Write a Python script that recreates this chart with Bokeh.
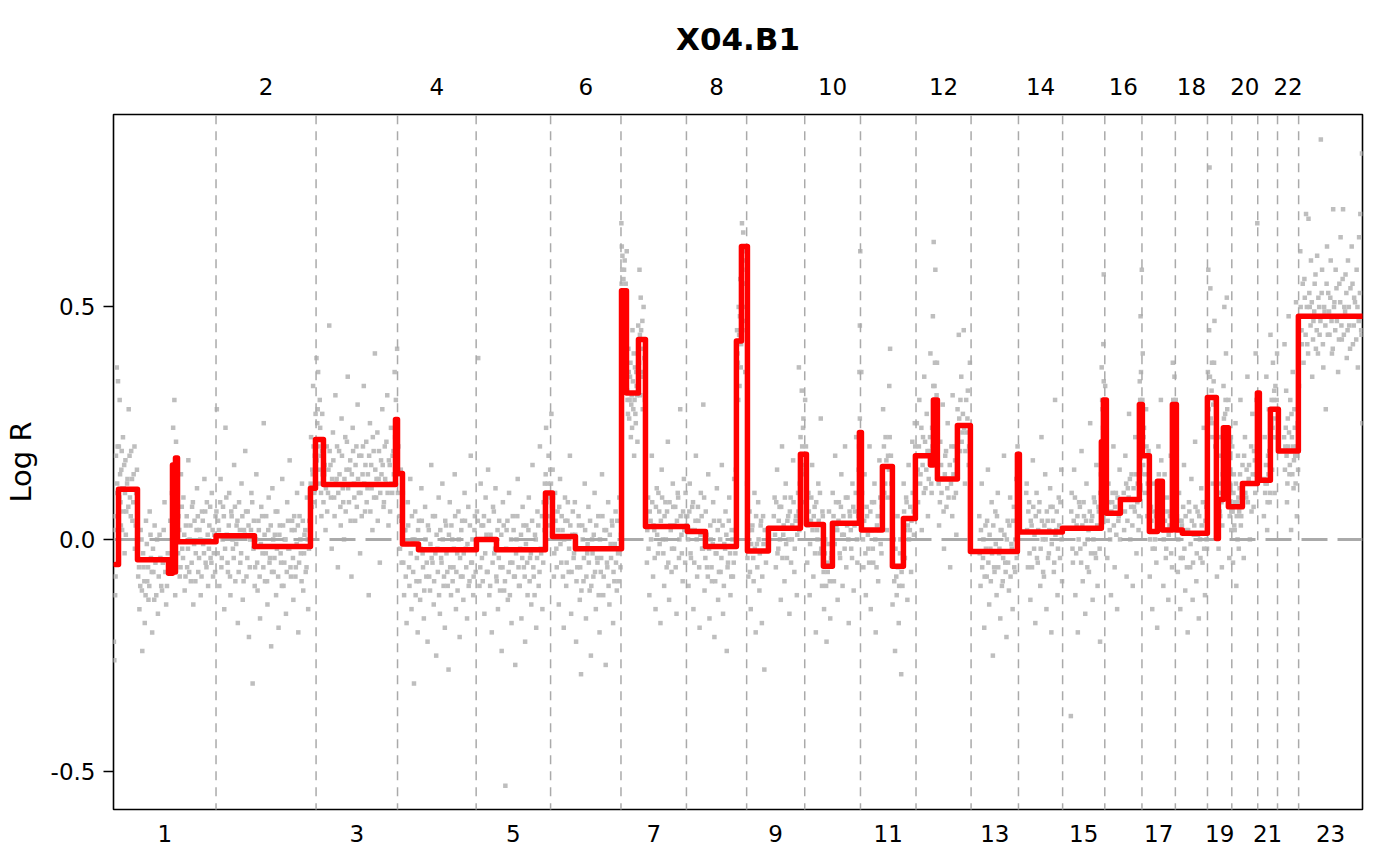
from bokeh.plotting import figure
from bokeh.models import Range1d, LinearAxis, FixedTicker, PrintfTickFormatter
from bokeh.embed import file_html
from bokeh.resources import INLINE

TITLE = "X04.B1"
Y_LABEL = "Log R"
Y_TICKS = [-0.5, 0.0, 0.5]

CHROM_LABELS = ["1", "2", "3", "4", "5", "6", "7", "8", "9", "10", "11", "12",
                "13", "14", "15", "16", "17", "18", "19", "20", "21", "22", "23"]
CHROM_LEN = [249.25, 243.20, 198.02, 191.15, 180.92, 171.12, 159.14, 146.36,
             141.21, 135.53, 135.01, 133.85, 115.17, 107.35, 102.53, 90.35,
             81.20, 78.08, 59.13, 63.03, 48.13, 51.30, 155.27]

# segmentation (genome-wide Mb)
SEG_START = [4.9, 12.2, 58.3, 133.7, 143.4, 147.1, 150.7, 155.6, 249.3, 342.7,
             478.8, 491.0, 510.4, 685.5, 690.4, 702.5, 741.4, 882.3, 931.0, 1050.1,
             1067.1, 1123.0, 1235.0, 1247.0, 1276.2, 1293.2, 1395.2, 1439.0, 1514.3, 1526.5,
             1541.1, 1592.1, 1669.9, 1684.5, 1725.8, 1747.7, 1813.3, 1818.2, 1869.2, 1893.5,
             1920.3, 1949.4, 1985.9, 1993.2, 2002.9, 2051.5, 2083.1, 2197.4, 2202.2, 2306.7,
             2401.5, 2406.4, 2413.7, 2447.7, 2493.9, 2501.2, 2518.2, 2537.7, 2549.8, 2574.1,
             2583.9, 2598.4, 2659.2, 2681.1, 2686.0, 2698.1, 2710.3, 2744.4, 2780.8, 2785.6,
             2812.4, 2831.8, 2880.4]
SEG_END = SEG_START[1:] + [3036.0]
SEG_MEAN = [-0.054, 0.108, -0.044, -0.073, 0.16, -0.07, 0.175, -0.005, 0.008, -0.015,
            0.11, 0.215, 0.118, 0.258, 0.142, -0.01, -0.022, 0.0, -0.022, 0.10,
            0.006, -0.02, 0.535, 0.315, 0.43, 0.028, 0.017, -0.015, 0.427, 0.63,
            -0.025, 0.024, 0.183, 0.032, -0.058, 0.035, 0.23, 0.02, 0.157, -0.058,
            0.045, 0.18, 0.16, 0.30, 0.13, 0.245, -0.026, 0.183, 0.016, 0.024,
            0.21, 0.30, 0.056, 0.086, 0.29, 0.18, 0.017, 0.125, 0.02, 0.29,
            0.02, 0.013, 0.305, 0.002, 0.086, 0.24, 0.07, 0.12, 0.315, 0.127,
            0.28, 0.19, 0.48]

# probe log R values: (position within chromosome in Mb, value)
c1 = [(1,-0.22),(2,-0.26),(3,0.05),(4,-0.12),(6,0.18),(8,0.37),(9,0.12),(11,0.34),(13,0.20),(15,0.30),
      (17,0.08),(19,0.15),(21,0.02),(23,0.22),(25,0.11),(27,-0.03),(29,0.17),(31,0.06),(34,0.13),(37,0.28),
      (40,0.09),(43,0.19),(46,0.04),(49,0.14),(52,-0.02),(55,0.10),(60,-0.08),(63,-0.15),(66,0.02),(69,-0.11),
      (70,-0.24),(73,-0.06),(76,-0.18),(79,0.04),(82,-0.09),(85,-0.13),(88,0.06),(91,-0.04),(94,-0.2),(97,-0.07),
      (100,0.03),(104,-0.12),(108,-0.16),(112,0.01),(116,-0.1),(120,-0.05),(124,0.08),(128,-0.14),(132,-0.03),(145,0.24),
      (148,0.3),(150,-0.12),(152,0.21),(155,0.12),(158,0.05),(161,-0.08),(164,0.14),(167,-0.02),(170,0.09),(173,-0.11),
      (176,0.03),(179,-0.06),(182,0.17),(185,0.0),(188,-0.09),(191,0.07),(194,-0.14),(197,0.04),(200,-0.03),(203,0.11),
      (206,-0.07),(209,0.02),(212,-0.12),(215,0.06),(218,-0.01),(221,0.13),(224,-0.05),(227,0.08),(230,-0.1),(233,0.03),
      (236,-0.04),(239,0.1),(242,-0.08),(245,0.01),(248,0.05)]
c2 = [(2,0.28),(5,0.04),(8,-0.1),(11,0.13),(14,-0.04),(17,0.07),(20,-0.15),(23,0.24),(26,0.01),(29,-0.07),
      (32,0.1),(35,-0.12),(38,0.05),(41,-0.02),(44,0.16),(47,-0.09),(50,0.03),(53,-0.18),(56,0.08),(59,-0.05),
      (62,0.12),(65,-0.13),(68,0.02),(71,0.19),(74,-0.08),(77,0.06),(80,-0.21),(83,0.0),(86,0.1),(89,-0.31),
      (92,0.04),(95,-0.06),(98,0.14),(101,-0.11),(104,0.02),(107,-0.17),(110,0.07),(113,-0.03),(116,0.25),(119,-0.09),
      (122,0.05),(125,-0.14),(128,0.09),(131,-0.04),(134,-0.23),(137,0.11),(140,-0.07),(143,0.01),(146,-0.12),(149,0.06),
      (152,-0.19),(155,0.03),(158,-0.05),(161,0.13),(164,-0.1),(167,0.0),(170,-0.16),(173,0.08),(176,-0.02),(179,0.17),
      (182,-0.08),(185,0.04),(188,-0.13),(191,0.02),(194,-0.06),(197,0.1),(200,-0.2),(203,0.05),(206,-0.03),(209,0.12),
      (212,-0.11),(215,0.01),(218,-0.07),(221,0.09),(224,-0.15),(227,0.04),(231,0.22),(234,0.15),(236,0.33),(238,0.08),
      (240,0.18),(242,0.27)]
c3 = [(1,0.39),(3,0.25),(5,0.36),(7,0.12),(9,0.3),(11,0.18),(13,0.05),(15,0.27),(17,0.21),(20,0.14),
      (23,0.02),(26,0.2),(29,0.1),(32,0.46),(35,0.16),(38,-0.02),(41,0.23),(44,0.09),(47,0.31),(50,0.13),
      (53,-0.06),(56,0.19),(59,0.07),(62,0.26),(65,0.11),(68,0.0),(71,0.22),(74,0.15),(77,0.35),(80,0.08),
      (83,0.17),(86,-0.08),(89,0.24),(92,0.12),(95,0.04),(98,0.2),(101,0.29),(104,0.1),(107,-0.03),(110,0.18),
      (113,0.14),(116,0.33),(119,0.06),(122,0.21),(125,0.11),(128,-0.12),(131,0.25),(134,0.16),(137,0.02),(140,0.19),
      (143,0.4),(146,0.09),(149,0.23),(152,0.13),(155,-0.05),(158,0.17),(161,0.28),(164,0.07),(167,0.2),(170,0.12),
      (173,0.31),(176,0.03),(179,0.16),(182,0.24),(185,0.1),(188,0.19),(191,0.36),(194,0.3),(196,0.21),(197,0.41)]
c4 = [(2,0.2),(5,0.05),(8,0.15),(10,-0.05),(13,0.1),(16,-0.12),(19,0.02),(22,-0.18),(25,0.08),(28,-0.06),
      (31,0.13),(34,-0.15),(37,0.0),(40,-0.31),(43,0.06),(46,-0.09),(49,-0.2),(52,0.04),(55,-0.13),(58,0.11),
      (61,-0.03),(64,-0.17),(67,0.07),(70,-0.08),(73,-0.22),(76,0.02),(79,-0.11),(82,0.16),(85,-0.05),(88,-0.14),
      (91,0.05),(94,-0.25),(97,-0.02),(100,0.09),(103,-0.16),(106,-0.04),(109,0.12),(112,-0.1),(115,-0.19),(118,0.03),
      (121,-0.07),(124,-0.28),(127,0.08),(130,-0.12),(133,0.0),(136,-0.06),(139,0.14),(142,-0.15),(145,-0.03),(148,0.06),
      (151,-0.21),(154,-0.08),(157,0.04),(160,-0.13),(163,0.1),(166,-0.02),(169,-0.17),(172,0.07),(175,-0.09),(178,0.18),
      (181,-0.05),(184,-0.12),(187,0.02),(190,-0.07)]
c5 = [(2,0.06),(5,0.39),(8,-0.1),(11,0.12),(14,-0.04),(17,0.03),(20,-0.16),(23,0.09),(26,-0.07),(29,0.15),
      (32,-0.12),(35,0.01),(38,-0.2),(41,0.07),(44,-0.03),(47,0.11),(50,-0.09),(53,-0.15),(56,0.04),(59,-0.06),
      (62,-0.24),(65,0.08),(68,-0.11),(71,-0.53),(74,0.02),(77,-0.13),(80,0.1),(83,-0.05),(86,-0.18),(89,0.05),
      (92,-0.08),(95,-0.27),(98,0.0),(101,0.13),(104,-0.1),(107,-0.02),(110,-0.17),(113,0.07),(116,-0.06),(119,-0.22),
      (122,0.03),(125,-0.12),(128,0.09),(131,-0.04),(134,-0.14),(137,0.16),(140,-0.08),(143,0.01),(146,-0.19),(149,0.06),
      (152,-0.1),(155,0.2),(158,-0.03),(161,-0.15),(164,0.08),(167,0.12),(170,0.24),(173,0.05),(176,0.18),(179,0.09)]
c6 = [(2,0.27),(5,0.15),(8,-0.08),(11,0.1),(14,-0.02),(17,0.06),(20,-0.14),(23,0.13),(26,-0.05),(29,0.02),
      (32,-0.19),(35,0.09),(38,-0.1),(41,0.04),(44,-0.07),(47,0.18),(50,-0.16),(53,0.01),(56,-0.04),(59,0.08),
      (62,-0.22),(65,-0.06),(68,0.05),(71,-0.13),(74,-0.29),(77,0.03),(80,-0.09),(83,0.12),(86,-0.17),(89,-0.03),
      (92,0.07),(95,-0.11),(98,-0.25),(101,0.0),(104,-0.08),(107,0.1),(110,-0.15),(113,-0.04),(116,0.05),(119,-0.2),
      (122,-0.07),(125,0.14),(128,-0.12),(131,0.02),(134,-0.27),(137,-0.05),(140,0.08),(143,-0.14),(146,-0.01),(149,0.04),
      (152,-0.18),(155,-0.09),(158,0.06),(161,-0.11),(164,-0.03),(167,0.09),(170,-0.06)]
c7 = [(1,0.68),(2,0.63),(3,0.58),(4,0.5),(5,0.44),(6,0.56),(7,0.38),(8,0.47),(9,0.6),(10,0.52),
      (11,0.34),(12,0.45),(14,0.62),(16,0.3),(18,0.41),(20,0.26),(22,0.35),(24,0.22),(26,0.31),(28,0.45),
      (30,0.28),(32,0.18),(34,0.37),(36,0.25),(38,0.33),(40,0.21),(43,0.4),(45,0.58),(47,0.31),(49,0.45),
      (51,0.36),(53,0.28),(55,0.5),(57,0.39),(60,0.12),(63,-0.05),(66,0.09),(69,-0.12),(72,0.04),(75,0.18),
      (78,-0.08),(81,0.02),(84,-0.15),(87,0.11),(90,-0.03),(93,0.06),(96,-0.18),(99,0.15),(102,0.0),(105,-0.1),
      (108,0.08),(111,-0.06),(114,0.21),(117,-0.13),(120,0.03),(123,-0.07),(126,0.12),(129,-0.02),(132,0.07),(135,-0.16),
      (138,0.1),(141,-0.04),(144,0.28),(147,0.01),(150,-0.09),(153,0.13),(156,-0.05),(158,0.05)]
c8 = [(2,0.05),(5,-0.1),(8,0.12),(11,-0.04),(14,0.07),(17,-0.15),(20,0.02),(23,0.18),(26,-0.08),(29,0.04),
      (32,-0.19),(35,0.1),(38,-0.02),(41,0.29),(44,-0.11),(47,0.06),(50,-0.06),(53,0.14),(56,-0.17),(59,0.0),
      (62,-0.09),(65,0.08),(68,-0.21),(71,-0.03),(74,0.11),(77,-0.13),(80,0.04),(83,-0.07),(86,0.16),(89,-0.16),
      (92,-0.01),(95,0.06),(98,-0.24),(101,-0.05),(104,0.09),(107,-0.12),(110,0.02),(113,-0.08),(116,0.13),(119,-0.03),
      (121,0.26),(123,0.45),(125,0.38),(127,0.5),(129,0.33),(131,0.56),(133,0.42),(135,0.68),(137,0.6),(139,0.47),
      (141,0.63),(143,0.36),(145,0.55)]
c9 = [(1,0.12),(4,-0.08),(7,0.06),(10,-0.15),(13,0.02),(16,-0.04),(19,0.1),(22,-0.2),(25,-0.01),(28,0.08),
      (31,-0.11),(34,0.03),(37,-0.18),(40,0.05),(43,-0.28),(68,0.09),(71,-0.06),(74,0.15),(77,-0.02),(80,0.07),
      (83,-0.13),(86,0.2),(89,0.01),(92,-0.09),(95,0.12),(98,-0.04),(101,0.05),(104,-0.16),(107,0.09),(110,0.0),
      (113,0.17),(116,-0.07),(119,0.04),(122,-0.12),(125,0.1),(127,0.37),(128,0.02),(131,0.22),(134,0.32),(136,0.14),
      (138,0.26),(140,0.08)]
c10 = [(1,0.3),(3,0.2),(6,-0.05),(9,0.1),(12,-0.12),(15,0.04),(18,0.16),(21,-0.08),(24,0.07),(27,-0.2),
       (30,0.02),(33,0.12),(36,-0.03),(39,0.26),(42,-0.1),(44,0.05),(47,-0.15),(50,0.0),(53,-0.22),(56,-0.07),
       (59,0.06),(62,-0.17),(65,-0.03),(68,0.1),(71,-0.09),(74,0.18),(77,0.03),(80,-0.13),(83,0.08),(86,-0.04),
       (89,0.14),(92,-0.1),(95,0.01),(98,0.2),(101,-0.06),(104,0.09),(107,-0.18),(110,0.05),(113,-0.02),(116,0.12),
       (119,-0.11),(122,0.06),(125,0.22),(128,-0.05),(131,0.15),(133,0.36),(134,0.46),(135,0.62)]
c11 = [(2,0.36),(4,0.1),(7,-0.06),(10,0.14),(13,-0.12),(16,0.05),(19,-0.02),(22,0.2),(25,-0.15),(28,0.08),
       (31,-0.05),(34,0.12),(37,-0.2),(40,0.03),(43,-0.09),(46,0.17),(49,-0.01),(52,0.07),(55,0.28),(58,0.1),
       (61,0.22),(64,0.02),(67,0.18),(70,0.33),(72,0.41),(75,0.12),(78,-0.14),(81,0.0),(84,-0.24),(87,-0.08),
       (90,0.05),(93,-0.18),(96,-0.03),(99,-0.29),(102,-0.1),(105,0.12),(108,-0.04),(111,0.09),(114,-0.13),(117,0.16),
       (120,0.02),(123,-0.07),(126,0.21),(129,0.06),(132,0.25),(134,0.14)]
c12 = [(2,0.25),(5,0.08),(8,0.3),(11,0.14),(14,0.02),(17,0.22),(20,0.35),(23,0.11),(26,0.27),(29,0.05),
       (32,0.19),(35,0.4),(37,0.12),(39,0.24),(41,0.48),(43,0.64),(45,0.33),(47,0.58),(49,0.2),(51,0.38),
       (53,0.16),(56,0.03),(59,0.21),(62,0.1),(65,0.29),(68,-0.02),(71,0.18),(74,0.07),(77,0.25),(80,0.13),
       (83,-0.06),(86,0.2),(89,0.31),(92,0.09),(95,0.17),(98,0.01),(101,0.28),(104,0.44),(107,0.19),(110,0.35),
       (113,0.23),(116,0.45),(119,0.12),(122,0.3),(125,0.26),(128,0.16),(131,0.38),(133,0.05)]
c13 = [(20,0.05),(23,-0.1),(26,0.12),(29,-0.04),(32,-0.19),(35,0.03),(38,-0.08),(41,0.15),(44,-0.14),(47,-0.02),
       (50,0.08),(53,-0.25),(56,-0.06),(59,0.06),(62,-0.12),(65,0.1),(68,-0.03),(71,-0.17),(74,0.02),(77,-0.09),
       (80,0.18),(83,-0.05),(86,-0.21),(89,0.04),(92,-0.11),(95,0.09),(98,-0.01),(101,-0.15),(104,0.07),(107,-0.07),
       (110,0.13),(113,0.2),(114,0.1)]
c14 = [(20,0.12),(23,-0.06),(26,0.08),(29,-0.13),(32,0.03),(35,0.17),(38,-0.02),(41,-0.18),(44,0.1),(47,-0.05),
       (50,0.06),(53,-0.1),(56,0.22),(59,0.0),(62,-0.08),(65,0.14),(68,-0.15),(71,0.04),(74,-0.03),(77,0.11),
       (80,-0.2),(83,0.07),(86,-0.07),(89,0.3),(92,0.02),(95,-0.12),(98,0.09),(101,-0.04),(104,0.15),(106,-0.09)]
c15 = [(20,-0.38),(22,0.1),(25,-0.05),(28,0.15),(31,-0.12),(34,0.03),(37,-0.2),(40,0.08),(43,-0.02),(46,0.19),
       (49,-0.09),(52,0.05),(55,-0.16),(58,0.12),(61,0.0),(64,-0.07),(67,0.25),(70,0.04),(73,-0.13),(76,0.09),
       (79,-0.03),(82,0.16),(85,-0.1),(88,0.06),(91,-0.22),(93,0.14),(95,0.37),(97,0.28),(99,0.42),(100,0.57),(101,0.2)]
c16 = [(1,0.33),(3,0.18),(6,-0.04),(9,0.12),(12,0.02),(15,-0.12),(18,0.08),(21,0.2),(24,-0.06),(27,0.1),
       (30,-0.15),(33,0.04),(36,0.15),(47,0.02),(50,0.18),(53,-0.08),(56,0.11),(59,0.27),(62,0.0),(65,0.14),
       (68,-0.1),(71,0.07),(74,0.22),(77,-0.03),(80,0.12),(83,0.05),(85,0.34),(87,0.48),(89,0.25),(90,0.58)]
c17 = [(2,0.4),(4,0.22),(7,0.1),(10,0.28),(13,0.05),(16,0.19),(19,-0.08),(22,0.07),(25,-0.15),(28,0.12),
       (31,-0.02),(34,0.05),(37,-0.19),(40,0.2),(43,0.08),(46,0.3),(49,0.02),(52,-0.1),(55,0.14),(58,-0.04),
       (61,0.09),(64,-0.13),(67,0.03),(70,0.18),(73,-0.06),(75,0.38),(77,0.25),(79,0.35),(80,0.16)]
c18 = [(1,0.3),(3,0.12),(6,-0.07),(9,0.1),(12,-0.15),(15,0.04),(18,-0.04),(21,0.16),(24,-0.11),(27,0.02),
       (30,-0.2),(33,0.08),(36,-0.06),(39,0.13),(42,-0.13),(45,0.01),(48,0.21),(51,-0.09),(54,0.06),(57,-0.17),
       (60,0.0),(63,0.11),(66,-0.05),(69,0.24),(72,-0.12),(75,0.07),(77,-0.02)]
c19 = [(1,0.36),(2,0.58),(4,0.45),(5,0.8),(7,0.54),(9,0.25),(11,0.38),(13,0.12),(15,0.34),(17,0.47),
       (19,0.2),(21,0.3),(23,-0.08),(25,0.1),(27,-0.02),(29,0.18),(31,0.05),(33,0.22),(35,-0.06),(37,0.14),
       (39,0.33),(41,0.5),(43,0.27),(45,0.4),(47,0.52),(49,0.16),(51,0.3),(53,-0.04),(55,0.12),(57,0.22),(58,0.02)]
c20 = [(1,0.2),(3,-0.05),(5,0.14),(7,0.02),(9,0.25),(11,-0.1),(13,0.08),(15,0.18),(17,-0.02),(19,0.11),
       (21,0.3),(23,0.05),(26,0.16),(29,-0.04),(32,0.22),(35,0.09),(38,0.35),(41,0.13),(44,0.0),(47,0.2),
       (50,0.27),(53,0.07),(56,0.17),(58,0.4),(60,0.3),(62,0.68)]
c21 = [(15,0.05),(17,0.22),(19,0.12),(21,0.35),(23,0.02),(25,0.18),(27,0.28),(29,0.08),(31,0.44),(33,0.25),
       (35,0.15),(37,0.38),(39,0.3),(41,0.1),(43,0.33),(45,0.22),(47,0.4)]
c22 = [(17,0.42),(19,0.2),(21,0.32),(23,0.08),(25,0.26),(27,0.48),(29,0.14),(31,0.3),(33,0.02),(35,0.22),
       (37,0.36),(39,0.11),(41,0.28),(43,0.18),(45,0.51),(47,0.05),(49,0.25),(50,0.15)]
c23 = [(1,0.33),(4,0.62),(7,0.45),(10,0.55),(12,0.38),(15,0.52),(18,0.7),(21,0.42),(24,0.69),(27,0.5),
       (30,0.6),(33,0.35),(36,0.47),(39,0.55),(42,0.41),(45,0.61),(48,0.52),(51,0.44),(54,0.86),(57,0.58),
       (60,0.37),(63,0.49),(66,0.28),(69,0.63),(72,0.53),(75,0.44),(78,0.6),(81,0.4),(84,0.71),(87,0.51),
       (90,0.58),(93,0.47),(96,0.36),(99,0.55),(102,0.65),(105,0.43),(108,0.71),(111,0.5),(114,0.57),(117,0.39),
       (120,0.6),(123,0.46),(126,0.54),(129,0.63),(132,0.42),(135,0.52),(138,0.48),(141,0.58),(144,0.37),(147,0.65),
       (150,0.7),(152,0.45),(154,0.83),(155,0.25)]

# denser core of the probe clouds
d1 = [(1.5,0.02),(5,-0.08),(7,0.1),(10,0.2),(14,0.09),(16,0.14),(18,0.03),(20,0.19),(22,0.11),(24,0.06),
      (26,0.16),(28,0.1),(30,0.01),(33,0.12),(36,0.07),(39,0.18),(42,0.05),(45,0.13),(48,0.08),(51,0.2),
      (54,0.03),(57,0.15),(59,-0.02),(62,-0.06),(65,-0.1),(68,0.0),(72,-0.03),(75,-0.09),(78,-0.12),(81,-0.01),
      (84,-0.06),(87,-0.1),(90,0.01),(93,-0.07),(96,-0.02),(99,-0.13),(102,-0.05),(106,0.0),(110,-0.08),(114,-0.04),
      (118,-0.11),(122,0.02),(126,-0.07),(130,-0.1),(135,-0.06),(138,0.04),(142,0.1),(146,-0.02),(154,0.06),(157,-0.03),
      (160,0.02),(163,-0.06),(166,0.07),(169,-0.04),(172,0.01),(175,-0.08),(178,0.05),(181,-0.02),(184,-0.07),(187,0.03),
      (190,-0.05),(193,0.08),(196,-0.01),(199,-0.09),(202,0.02),(205,0.05),(208,-0.04),(211,0.0),(214,-0.08),(217,0.04),
      (220,-0.03),(223,0.06),(226,-0.06),(229,0.01),(232,-0.02),(235,0.07),(238,-0.05),(241,0.02),(244,-0.03),(247,-0.07)]
d2 = [(1,0.06),(4,-0.03),(7,0.02),(10,0.08),(13,-0.06),(16,0.0),(19,0.05),(22,-0.02),(25,0.09),(28,-0.05),
      (31,0.03),(34,-0.08),(37,0.06),(40,0.0),(43,-0.04),(46,0.07),(49,-0.01),(52,0.04),(55,-0.07),(58,0.02),
      (61,-0.03),(64,0.05),(67,-0.09),(70,0.01),(73,0.06),(76,-0.04),(79,0.03),(82,-0.06),(85,0.02),(88,0.08),
      (91,-0.02),(94,-0.1),(97,0.0),(100,-0.05),(103,0.04),(106,-0.08),(109,-0.01),(112,0.05),(115,-0.06),(118,0.01),
      (121,-0.03),(124,-0.09),(127,0.02),(130,-0.05),(133,0.03),(136,-0.07),(139,0.0),(142,-0.04),(145,0.06),(148,-0.02),
      (151,-0.08),(154,0.01),(157,-0.03),(160,-0.1),(163,0.03),(166,-0.05),(169,0.0),(172,-0.07),(175,0.04),(178,-0.02),
      (181,-0.06),(184,0.02),(187,-0.04),(190,0.05),(193,-0.08),(196,-0.01),(199,0.03),(202,-0.05),(205,0.0),(208,-0.09),
      (211,0.04),(214,-0.03),(217,0.02),(220,-0.06),(223,0.0),(226,-0.02),(230,0.12),(233,0.07),(235,0.14),(237,0.2),
      (239,0.1),(241,0.16)]
d3 = [(2,0.17),(4,0.28),(6,0.2),(8,0.15),(10,0.24),(12,0.1),(14,0.19),(16,0.14),(18,0.08),(21,0.16),
      (24,0.11),(27,0.06),(30,0.15),(33,0.19),(36,0.09),(39,0.13),(42,0.17),(45,0.05),(48,0.12),(51,0.2),
      (54,0.1),(57,0.14),(60,0.03),(63,0.18),(66,0.08),(69,0.13),(72,0.06),(75,0.21),(78,0.11),(81,0.15),
      (84,0.04),(87,0.14),(90,0.19),(93,0.09),(96,0.16),(99,0.07),(102,0.13),(105,0.18),(108,0.1),(111,0.05),
      (114,0.2),(117,0.12),(120,0.16),(123,0.08),(126,0.14),(129,0.18),(132,0.06),(135,0.11),(138,0.22),(141,0.09),
      (144,0.15),(147,0.13),(150,0.04),(153,0.19),(156,0.1),(159,0.14),(162,0.16),(165,0.08),(168,0.13),(171,0.21),
      (174,0.1),(177,0.17),(180,0.06),(183,0.12),(186,0.18),(189,0.14),(192,0.22),(195,0.15)]
d4 = [(1,0.1),(3,0.14),(6,-0.02),(9,0.04),(11,0.07),(14,-0.05),(17,0.02),(20,-0.08),(23,-0.01),(26,0.03),
      (29,-0.1),(32,-0.03),(35,0.05),(38,-0.07),(41,0.0),(44,-0.12),(47,-0.04),(50,0.02),(53,-0.09),(56,-0.02),
      (59,0.04),(62,-0.06),(65,-0.11),(68,0.0),(71,-0.05),(74,0.03),(77,-0.08),(80,-0.01),(83,-0.04),(86,0.05),
      (89,-0.09),(92,-0.03),(95,0.01),(98,-0.07),(101,-0.12),(104,0.02),(107,-0.05),(110,0.0),(113,-0.08),(116,0.04),
      (119,-0.03),(122,-0.1),(125,0.01),(128,-0.06),(131,0.03),(134,-0.09),(137,-0.02),(140,0.05),(143,-0.07),(146,-0.11),
      (149,0.0),(152,-0.04),(155,0.02),(158,-0.08),(161,-0.03),(164,0.04),(167,-0.06),(170,-0.01),(173,-0.1),(176,0.03),
      (179,-0.05),(182,0.0),(185,-0.08),(188,0.05)]
d5 = [(1,-0.02),(4,0.04),(7,0.0),(10,-0.06),(13,0.03),(16,-0.09),(19,0.05),(22,-0.03),(25,0.01),(28,-0.07),
      (31,0.04),(34,-0.1),(37,0.0),(40,-0.05),(43,0.06),(46,-0.02),(49,-0.08),(52,0.02),(55,-0.04),(58,-0.11),
      (61,0.01),(64,-0.06),(67,0.03),(70,-0.09),(73,-0.02),(76,0.04),(79,-0.07),(82,-0.12),(85,0.0),(88,-0.05),
      (91,0.02),(94,-0.08),(97,-0.03),(100,0.05),(103,-0.06),(106,-0.1),(109,0.01),(112,-0.04),(115,0.03),(118,-0.08),
      (121,-0.01),(124,-0.05),(127,0.02),(130,-0.09),(133,-0.03),(136,0.04),(139,-0.06),(142,-0.12),(145,0.0),(148,-0.04),
      (151,0.03),(154,-0.07),(157,-0.02),(160,0.05),(163,-0.05),(166,0.02),(169,0.14),(171,0.08),(174,0.12),(177,0.03),
      (180,0.15)]
d6 = [(1,0.12),(3,0.05),(6,0.09),(9,-0.03),(12,0.04),(15,-0.06),(18,0.02),(21,0.07),(24,-0.01),(27,0.05),
      (30,-0.08),(33,0.0),(36,0.04),(39,-0.05),(42,0.08),(45,-0.02),(48,0.03),(51,-0.07),(54,0.06),(57,-0.03),
      (60,0.01),(63,-0.09),(66,-0.02),(69,0.03),(72,-0.06),(75,-0.11),(78,0.0),(81,-0.04),(84,0.02),(87,-0.08),
      (90,-0.01),(93,-0.05),(96,0.04),(99,-0.1),(102,-0.03),(105,0.01),(108,-0.07),(111,0.03),(114,-0.05),(117,-0.12),
      (120,0.0),(123,-0.04),(126,0.05),(129,-0.08),(132,-0.02),(135,0.02),(138,-0.06),(141,-0.1),(144,0.01),(147,-0.04),
      (150,0.03),(153,-0.07),(156,-0.01),(159,-0.05),(162,0.04),(165,-0.09),(168,-0.02),(171,0.01)]
d7 = [(1.5,0.55),(2.5,0.49),(3.5,0.61),(4.5,0.53),(5.5,0.42),(6.5,0.5),(7.5,0.58),(8.5,0.4),(9.5,0.48),(11.5,0.55),
      (13,0.36),(15,0.32),(17,0.27),(19,0.36),(21,0.3),(23,0.38),(25,0.29),(27,0.24),(29,0.34),(31,0.4),
      (33,0.3),(35,0.27),(37,0.36),(39,0.31),(42,0.46),(44,0.38),(46,0.44),(48,0.52),(50,0.41),(52,0.47),
      (54,0.35),(56,0.43),(58,0.3),(61,0.05),(64,0.02),(67,-0.02),(70,0.06),(73,0.0),(76,0.08),(79,0.03),
      (82,-0.04),(85,0.07),(88,0.01),(91,0.1),(94,-0.01),(97,0.04),(100,0.09),(103,-0.03),(106,0.05),(109,0.0),
      (112,0.06),(115,-0.05),(118,0.08),(121,0.02),(124,-0.02),(127,0.07),(130,0.03),(133,-0.06),(136,0.04),(139,0.09),
      (142,0.0),(145,0.05),(148,-0.03),(151,0.06),(154,0.02),(157,0.1)]
d8 = [(1,0.03),(4,0.0),(7,0.06),(10,-0.03),(13,0.02),(16,0.08),(19,-0.05),(22,0.04),(25,0.0),(28,0.07),
      (31,-0.06),(34,0.01),(37,0.05),(40,-0.02),(43,0.09),(46,-0.04),(49,0.01),(52,-0.08),(55,-0.02),(58,0.03),
      (61,-0.06),(64,-0.01),(67,0.04),(70,-0.09),(73,-0.03),(76,0.02),(79,-0.07),(82,0.0),(85,-0.04),(88,0.03),
      (91,-0.1),(94,-0.02),(97,0.01),(100,-0.06),(103,0.04),(106,-0.03),(109,-0.08),(112,0.0),(115,-0.05),(118,0.02),
      (120,0.15),(122,0.35),(124,0.4),(126,0.3),(128,0.44),(130,0.48),(132,0.37),(134,0.52),(136,0.58),(138,0.66),
      (140,0.55),(142,0.5),(144,0.62),(146,0.45)]
d9 = [(2,-0.04),(5,0.02),(8,-0.07),(11,-0.01),(14,0.03),(17,-0.09),(20,-0.02),(23,0.05),(26,-0.06),(29,0.0),
      (32,-0.03),(35,0.04),(38,-0.08),(41,-0.01),(44,0.02),(47,-0.05),(66,0.05),(69,0.01),(72,0.08),(75,-0.03),
      (78,0.04),(81,0.0),(84,0.07),(87,-0.04),(90,0.03),(93,0.09),(96,-0.01),(99,0.04),(102,0.0),(105,0.06),
      (108,-0.05),(111,0.03),(114,0.08),(117,-0.02),(120,0.05),(123,0.01),(126,0.06),(129,0.12),(132,0.18),(135,0.2),
      (137,0.24),(139,0.16)]
d10 = [(2,0.15),(4,0.08),(7,0.03),(10,0.06),(13,-0.01),(16,0.09),(19,0.02),(22,0.05),(25,-0.03),(28,0.08),
       (31,0.0),(34,0.04),(37,0.1),(40,-0.02),(43,0.06),(46,-0.07),(49,-0.03),(52,-0.1),(55,-0.05),(58,-0.01),
       (61,-0.09),(64,-0.04),(67,0.02),(70,0.05),(73,-0.01),(76,0.08),(79,0.02),(82,0.04),(85,-0.03),(88,0.07),
       (91,0.01),(94,0.05),(97,-0.02),(100,0.09),(103,0.03),(106,0.0),(109,0.06),(112,0.02),(115,-0.04),(118,0.07),
       (121,0.03),(124,0.1),(127,0.0),(130,0.05),(132,0.2),(134,0.26)]
d11 = [(1,0.18),(3,0.05),(6,0.0),(9,0.04),(12,-0.03),(15,0.07),(18,0.01),(21,-0.05),(24,0.06),(27,0.02),
       (30,-0.02),(33,0.08),(36,0.0),(39,-0.06),(42,0.05),(45,0.02),(48,0.09),(51,-0.03),(54,0.14),(57,0.2),
       (60,0.12),(63,0.17),(66,0.09),(69,0.15),(71,0.22),(74,0.18),(77,0.1),(79,-0.05),(82,-0.09),(85,-0.02),
       (88,-0.12),(91,-0.06),(94,-0.1),(97,0.0),(100,-0.07),(103,-0.04),(106,0.06),(109,0.02),(112,0.08),(115,0.03),
       (118,0.0),(121,0.07),(124,0.04),(127,0.1),(130,0.01),(133,0.2)]
d12 = [(1,0.18),(4,0.15),(7,0.2),(10,0.12),(13,0.24),(16,0.16),(19,0.1),(22,0.21),(25,0.15),(28,0.19),
       (31,0.13),(34,0.22),(36,0.17),(38,0.1),(40,0.2),(42,0.33),(44,0.28),(46,0.38),(48,0.26),(50,0.31),
       (52,0.15),(55,0.12),(58,0.08),(61,0.16),(64,0.13),(67,0.06),(70,0.14),(73,0.19),(76,0.11),(79,0.09),
       (82,0.16),(85,0.12),(88,0.05),(91,0.14),(94,0.2),(97,0.1),(100,0.15),(102,0.22),(105,0.26),(108,0.3),
       (111,0.21),(114,0.27),(117,0.24),(120,0.19),(123,0.23),(126,0.32),(129,0.2),(132,-0.02)]
d13 = [(21,-0.03),(24,0.02),(27,-0.06),(30,0.0),(33,-0.08),(36,-0.02),(39,0.04),(42,-0.05),(45,0.01),(48,-0.09),
       (51,-0.03),(54,0.03),(57,-0.07),(60,-0.01),(63,0.05),(66,-0.06),(69,-0.02),(72,0.02),(75,-0.1),(78,-0.04),
       (81,0.01),(84,-0.07),(87,0.0),(90,-0.05),(93,0.03),(96,-0.08),(99,-0.02),(102,0.04),(105,-0.06),(108,0.0),
       (111,-0.04),(113,0.15)]
d14 = [(19,0.1),(21,0.02),(24,0.06),(27,-0.03),(30,0.04),(33,-0.06),(36,0.07),(39,0.01),(42,0.05),(45,-0.04),
       (48,0.02),(51,0.08),(54,-0.02),(57,0.04),(60,-0.07),(63,0.03),(66,0.0),(69,0.06),(72,-0.04),(75,0.02),
       (78,0.07),(81,-0.01),(84,0.04),(87,-0.05),(90,0.01),(93,0.06),(96,-0.02),(99,0.03),(102,0.08),(105,0.0)]
d15 = [(21,0.06),(24,-0.02),(27,0.04),(30,0.09),(33,-0.03),(36,0.05),(39,0.0),(42,0.07),(45,-0.05),(48,0.03),
       (51,0.08),(54,-0.01),(57,0.04),(60,-0.06),(63,0.02),(66,0.06),(69,-0.03),(72,0.05),(75,0.0),(78,0.08),
       (81,-0.04),(84,0.03),(87,0.07),(90,-0.02),(92,0.1),(94,0.2),(96,0.3),(98,0.24),(100,0.34),(102,0.27)]
d16 = [(2,0.25),(4,0.08),(7,0.04),(10,0.08),(13,0.0),(16,0.06),(19,0.1),(22,0.03),(25,0.07),(28,0.01),
       (31,0.09),(34,0.05),(37,0.0),(46,0.1),(49,0.06),(52,0.12),(55,0.04),(58,0.09),(61,0.13),(64,0.07),
       (67,0.03),(70,0.11),(73,0.06),(76,0.14),(79,0.08),(82,0.02),(84,0.22),(86,0.3),(88,0.36),(90,0.28)]
d17 = [(1,0.3),(3,0.16),(5,0.24),(8,0.14),(11,0.2),(14,0.12),(17,0.18),(20,0.0),(23,0.04),(26,-0.02),
       (29,0.06),(32,0.0),(35,-0.05),(38,0.1),(41,0.14),(44,0.12),(47,0.17),(50,0.05),(53,0.0),(56,0.04),
       (59,-0.02),(62,0.06),(65,0.01),(68,0.05),(71,-0.03),(74,0.22),(76,0.3),(78,0.28)]
d18 = [(2,0.2),(4,0.05),(7,0.0),(10,0.04),(13,-0.04),(16,0.03),(19,0.07),(22,-0.02),(25,0.05),(28,-0.06),
       (31,0.02),(34,0.06),(37,-0.01),(40,0.04),(43,-0.05),(46,0.03),(49,0.07),(52,-0.03),(55,0.01),(58,0.05),
       (61,-0.04),(64,0.03),(67,0.08),(70,-0.02),(73,0.04),(76,0.0)]
d19 = [(1.5,0.3),(3,0.28),(6,0.35),(8,0.26),(10,0.32),(12,0.22),(14,0.29),(16,0.38),(18,0.3),(20,0.25),
       (22,0.05),(24,0.02),(26,0.07),(28,0.1),(30,0.06),(32,0.12),(34,0.08),(36,0.03),(38,0.1),(40,0.26),
       (42,0.2),(44,0.3),(46,0.24),(48,0.28),(50,0.21),(52,0.08),(54,0.05),(56,0.1),(58,0.06)]
d20 = [(2,0.06),(4,0.1),(6,0.03),(8,0.08),(10,0.12),(12,0.05),(14,0.0),(16,0.09),(18,0.06),(20,0.14),
       (22,0.03),(24,0.1),(27,0.12),(30,0.18),(33,0.1),(36,0.15),(39,0.08),(42,0.16),(45,0.12),(48,0.06),
       (51,0.14),(54,0.19),(57,0.1),(59,0.14),(61,0.2)]
d21 = [(16,0.13),(18,0.1),(20,0.16),(22,0.12),(24,0.08),(26,0.14),(28,0.19),(30,0.1),(32,0.26),(34,0.3),
       (36,0.24),(38,0.22),(40,0.32),(42,0.26),(44,0.28),(46,0.3)]
d22 = [(16,0.22),(18,0.15),(20,0.24),(22,0.18),(24,0.12),(26,0.2),(28,0.23),(30,0.16),(32,0.19),(34,0.27),
       (36,0.14),(38,0.2),(40,0.17),(42,0.24),(44,0.12),(46,0.2),(48,0.18),(51,0.22)]
d23 = [(2,0.45),(5,0.5),(8,0.42),(11,0.48),(14,0.56),(17,0.44),(20,0.5),(23,0.4),(26,0.53),(29,0.46),
       (32,0.51),(35,0.43),(38,0.49),(41,0.57),(44,0.45),(47,0.4),(50,0.5),(53,0.47),(56,0.53),(59,0.42),
       (62,0.5),(65,0.46),(68,0.55),(71,0.44),(74,0.49),(77,0.52),(80,0.47),(83,0.41),(86,0.5),(89,0.45),
       (92,0.54),(95,0.48),(98,0.43),(101,0.51),(104,0.46),(107,0.56),(110,0.44),(113,0.49),(116,0.53),(119,0.45),
       (122,0.5),(125,0.41),(128,0.48),(131,0.55),(134,0.46),(137,0.51),(140,0.43),(143,0.5),(146,0.47),(149,0.53),
       (153,0.44)]

PROBES = [c1 + d1, c2 + d2, c3 + d3, c4 + d4, c5 + d5, c6 + d6, c7 + d7, c8 + d8,
          c9 + d9, c10 + d10, c11 + d11, c12 + d12, c13 + d13, c14 + d14, c15 + d15,
          c16 + d16, c17 + d17, c18 + d18, c19 + d19, c20 + d20, c21 + d21, c22 + d22,
          c23 + d23]

# ---- derived ----
offsets = []
acc = 0.0
for L in CHROM_LEN:
    offsets.append(acc)
    acc += L
total = acc
bounds = [offsets[i] + CHROM_LEN[i] for i in range(len(CHROM_LEN) - 1)]
mids = [round(offsets[i] + CHROM_LEN[i] / 2.0, 2) for i in range(len(CHROM_LEN))]

px, py = [], []
for off, pts in zip(offsets, PROBES):
    for pos, val in pts:
        px.append(off + pos)
        py.append(val)

lx, ly = [], []
for s, e, m in zip(SEG_START, SEG_END, SEG_MEAN):
    lx += [s, e]
    ly += [m, m]

FONT = "DejaVu Sans"

p = figure(frame_width=1249, frame_height=695,
           x_range=Range1d(0, total), y_range=Range1d(-0.581, 0.914),
           output_backend="svg", toolbar_location=None, tools="",
           min_border_left=110, min_border_right=28, min_border_top=114, min_border_bottom=40)
p.background_fill_color = "white"
p.border_fill_color = "white"
p.grid.visible = False
p.outline_line_color = "black"
p.outline_line_width = 1.6

p.title.text = TITLE
p.title.align = "center"
p.title.text_font = FONT
p.title.text_font_size = "31px"
p.title.text_font_style = "bold"
p.title.text_color = "black"
p.title.text_line_height = 1.0
p.title.standoff = 36

# left axis
ya = p.yaxis[0]
ya.ticker = FixedTicker(ticks=Y_TICKS)
ya.formatter = PrintfTickFormatter(format="%.1f")
ya.axis_label = Y_LABEL
ya.axis_label_text_font = FONT
ya.axis_label_text_font_size = "29px"
ya.axis_label_text_font_style = "normal"
ya.axis_label_text_color = "black"
ya.axis_label_standoff = 10
ya.major_label_text_font = FONT
ya.major_label_text_font_size = "23px"
ya.major_label_text_color = "black"
ya.major_label_standoff = 8
ya.major_label_orientation = "horizontal"
ya.axis_line_color = None
ya.major_tick_line_color = "black"
ya.major_tick_line_width = 1.6
ya.major_tick_out = 10
ya.major_tick_in = 0
ya.minor_tick_line_color = None

odd_mids = [mids[i] for i in range(0, len(mids), 2)]
even_mids = [mids[i] for i in range(1, len(mids), 2)]

xa = p.xaxis[0]
xa.ticker = FixedTicker(ticks=odd_mids)
xa.major_label_overrides = {mids[i]: CHROM_LABELS[i] for i in range(0, len(mids), 2)}
ta = LinearAxis(ticker=FixedTicker(ticks=even_mids),
                major_label_overrides={mids[i]: CHROM_LABELS[i] for i in range(1, len(mids), 2)})
p.add_layout(ta, "above")
for ax, so in ((xa, 15), (ta, 20)):
    ax.axis_line_color = None
    ax.major_tick_line_color = None
    ax.minor_tick_line_color = None
    ax.major_tick_out = 0
    ax.major_tick_in = 0
    ax.major_label_text_font = FONT
    ax.major_label_text_font_size = "23px"
    ax.major_label_text_color = "black"
    ax.major_label_standoff = so

# probes
p.scatter(px, py, marker="square", size=4.5, fill_color="#BEBEBE", line_color=None)

# zero line and chromosome boundaries
p.segment(x0=[0], x1=[total], y0=[0], y1=[0], line_color="#AAAAAA", line_width=3,
          line_dash="26 10")
p.segment(x0=bounds, x1=bounds, y0=[-1.0] * len(bounds), y1=[1.0] * len(bounds),
          line_color="#AAAAAA", line_width=1.5, line_dash="9 7")

# segments
p.line(lx, ly, line_color="#FF0000", line_width=5.5, line_join="round", line_cap="round")

open("out.html", "w").write(file_html(p, INLINE))
